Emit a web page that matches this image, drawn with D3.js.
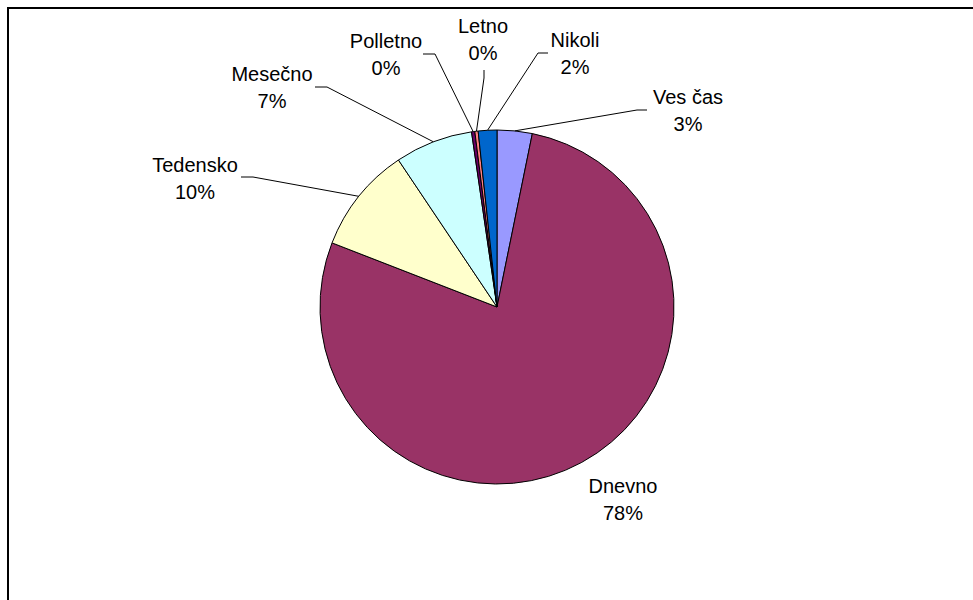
<!DOCTYPE html>
<html>
<head>
<meta charset="utf-8">
<script src="https://cdn.jsdelivr.net/npm/d3@7"></script>
<style>
  html, body { margin: 0; padding: 0; background: #fff; }
  svg { display: block; }
  text { font-family: "Liberation Sans", Arial, sans-serif; font-size: 20px; fill: #000; }
</style>
</head>
<body>
<svg id="chart" width="973" height="600"></svg>
<script>
// ---- data ----
const categories = ["Ves čas", "Dnevno", "Tedensko", "Mesečno", "Polletno", "Letno", "Nikoli"];
const values = [3.2, 77.7, 9.7, 7.1, 0.3, 0.3, 1.7];
const percentLabels = ["3%", "78%", "10%", "7%", "0%", "0%", "2%"];
const colors = ["#9999FF", "#993366", "#FFFFCC", "#CCFFFF", "#660066", "#FF8080", "#0066CC"];

// ---- layout (label anchors: x center, first-line baseline; leader elbow) ----
const labelLayout = {
  "Ves čas":  { x: 688, y: 104, elbow: [[647, 110], [637, 110]] },
  "Dnevno":   { x: 623, y: 493, elbow: null },
  "Tedensko": { x: 195, y: 172, elbow: [[241, 177], [253, 177]] },
  "Mesečno":  { x: 272, y: 81,  elbow: [[315, 87], [327, 87]] },
  "Polletno": { x: 386, y: 48,  elbow: [[423, 54], [435, 54]] },
  "Letno":    { x: 483, y: 33,  elbow: [[484, 70], [484, 78]] },
  "Nikoli":   { x: 575, y: 47,  elbow: [[548, 53], [538, 53]] }
};

const svg = d3.select("#chart");

// outer frame
svg.append("rect")
  .attr("x", 8).attr("y", 8)
  .attr("width", 1000).attr("height", 700)
  .attr("fill", "none")
  .attr("stroke", "#000")
  .attr("stroke-width", 2);

const cx = 497, cy = 307, r = 177;
const g = svg.append("g").attr("transform", `translate(${cx},${cy})`);

const data = categories.map((c, i) => ({ cat: c, value: values[i], pct: percentLabels[i], color: colors[i] }));

const pie = d3.pie().value(d => d.value).sort(null).startAngle(0).endAngle(2 * Math.PI);
const arcs = pie(data);
const arc = d3.arc().innerRadius(0).outerRadius(r);

g.selectAll("path.slice")
  .data(arcs)
  .join("path")
  .attr("class", "slice")
  .attr("d", arc)
  .attr("fill", d => d.data.color)
  .attr("stroke", "#000")
  .attr("stroke-width", 1)
  .attr("stroke-linejoin", "round");

// leader lines
arcs.forEach(a => {
  const L = labelLayout[a.data.cat];
  if (!L.elbow) return;
  const mid = (a.startAngle + a.endAngle) / 2;
  const ex = cx + r * Math.sin(mid), ey = cy - r * Math.cos(mid);
  const pts = [L.elbow[0], L.elbow[1], [ex, ey]];
  svg.append("path")
    .attr("d", d3.line()(pts))
    .attr("fill", "none")
    .attr("stroke", "#000")
    .attr("stroke-width", 1);
});

// labels
arcs.forEach(a => {
  const L = labelLayout[a.data.cat];
  const t = svg.append("text").attr("text-anchor", "middle");
  t.append("tspan").attr("x", L.x).attr("y", L.y).text(a.data.cat);
  t.append("tspan").attr("x", L.x).attr("y", L.y + 27).text(a.data.pct);
});
</script>
</body>
</html>
